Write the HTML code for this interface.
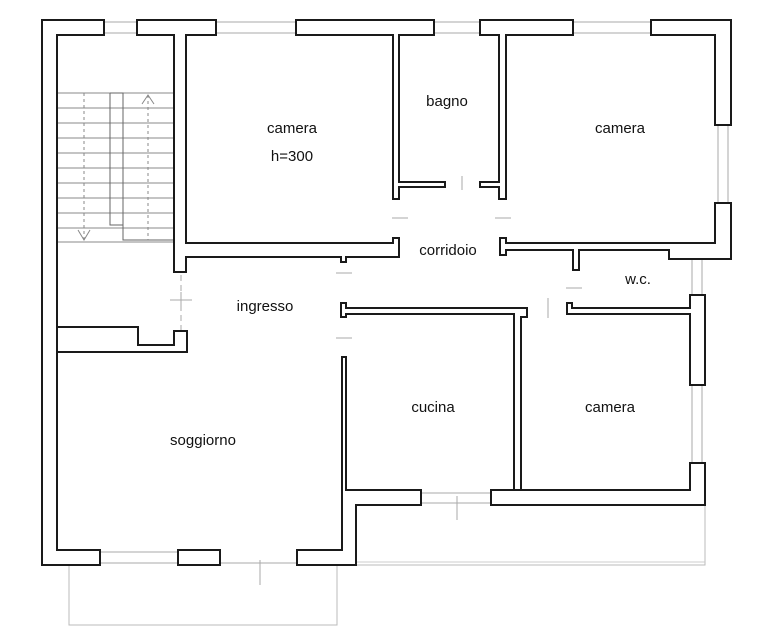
<!DOCTYPE html>
<html><head><meta charset="utf-8"><style>
html,body{margin:0;padding:0;background:#fff;width:768px;height:640px;overflow:hidden}
text{font-family:"Liberation Sans",sans-serif;font-size:15px;fill:#111}
</style></head><body>
<svg width="768" height="640" viewBox="0 0 768 640" xmlns="http://www.w3.org/2000/svg">
<g stroke="#aaa" stroke-width="1" fill="none">
<path d="M104 22H137M104 33H137M216 22H296M216 33H296M434 22H480M434 33H480M573 22H651M573 33H651"/>
<path d="M718 125V203M728 125V203M692 259V295M702 259V295M692 385V463M702 385V463"/>
<path d="M100 552H178M100 563H178M220 563H297M421 503H491M421 493H491"/>
<path d="M69 565V625H337V565M356 565H705V505" stroke="#bbb"/>
<path d="M356 562H705" stroke="#ccc"/>
<path d="M181 35V350" stroke-dasharray="6 4"/>
<path d="M42 339H130V348H187" stroke-dasharray="6 4"/>
<path d="M170 300H192M181 292V308M392 218H408M495 218H511M336 273H352M336 338H352M566 288H582M548 298V318M457 496V520M260 560V585M462 176V190"/>
</g>
<g stroke="#888" stroke-width="1" fill="none">
<path d="M57 93H174M57 108H174M57 123H174M57 138H174M57 153H174M57 168H174M57 183H174M57 198H174M57 213H174M57 228H174M57 242H174"/>
<path d="M110 93H123V240H174M110 93V225H123" stroke="#666"/>
<path d="M84 93V240M148 95V240" stroke-dasharray="3 3"/>
<path d="M142 104L148 95L154 104M78 230L84 240L90 230"/>
</g>
<g fill="#fff" stroke="#1a1a1a" stroke-width="2" stroke-linejoin="miter">
<polygon points="42,20 104,20 104,35 57,35 57,550 100,550 100,565 42,565"/>
<polygon points="57,327 138,327 138,345 174,345 174,331 187,331 187,352 57,352"/>
<polygon points="137,20 216,20 216,35 186,35 186,243 393,243 393,238 399,238 399,257 346,257 346,262 341,262 341,257 186,257 186,272 174,272 174,35 137,35"/>
<polygon points="296,20 434,20 434,35 399,35 399,182 445,182 445,187 399,187 399,199 393,199 393,35 296,35"/>
<polygon points="480,20 573,20 573,35 506,35 506,182 506,199 499,199 499,187 480,187 480,182 499,182 499,35 480,35"/>
<polygon points="651,20 731,20 731,125 715,125 715,35 651,35"/>
<polygon points="715,203 731,203 731,259 669,259 669,250 579,250 579,270 573,270 573,250 506,250 506,255 500,255 500,238 506,238 506,243 715,243"/>
<polygon points="567,303 572,303 572,308 690,308 690,295 705,295 705,385 690,385 690,314 567,314"/>
<polygon points="341,303 346,303 346,308 527,308 527,317 521,317 521,490 514,490 514,314 346,314 346,317 341,317"/>
<polygon points="491,490 690,490 690,463 705,463 705,505 491,505"/>
<polygon points="342,357 346,357 346,490 421,490 421,505 356,505 356,565 297,565 297,550 342,550"/>
<polygon points="178,550 220,550 220,565 178,565"/>
</g>
<text x="292" y="133" text-anchor="middle">camera</text>
<text x="292" y="161" text-anchor="middle">h=300</text>
<text x="447" y="106" text-anchor="middle">bagno</text>
<text x="620" y="133" text-anchor="middle">camera</text>
<text x="448" y="255" text-anchor="middle">corridoio</text>
<text x="638" y="284" text-anchor="middle">w.c.</text>
<text x="265" y="311" text-anchor="middle">ingresso</text>
<text x="433" y="412" text-anchor="middle">cucina</text>
<text x="610" y="412" text-anchor="middle">camera</text>
<text x="203" y="445" text-anchor="middle">soggiorno</text>
</svg>
</body></html>
